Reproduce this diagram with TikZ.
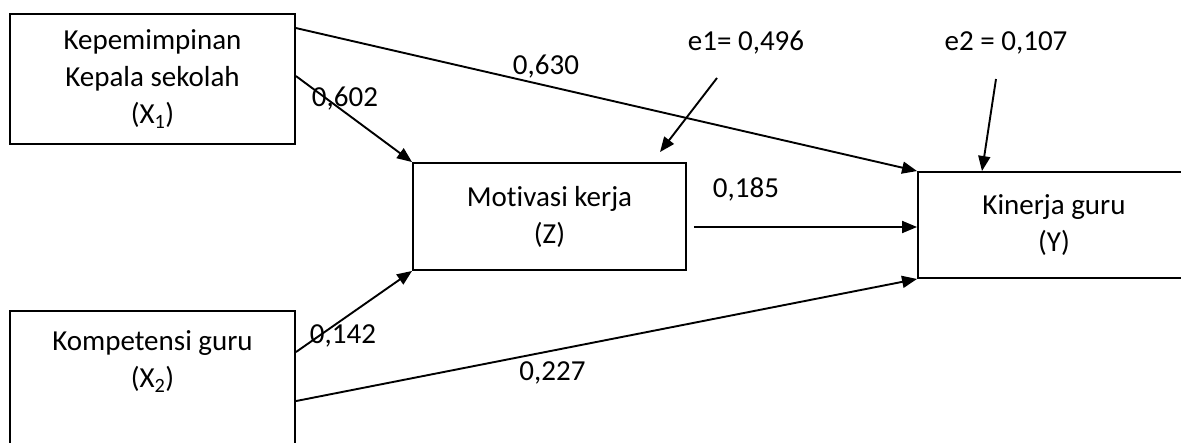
\documentclass[tikz,border=0pt]{standalone}
\usepackage{fontspec}
\setmainfont{Carlito}[Ligatures=NoCommon]
\usetikzlibrary{arrows.meta}
\begin{document}
\begin{tikzpicture}[x=1pt,y=-1pt,
  every node/.style={font=\fontsize{29}{37}\selectfont},
  varbox/.style={draw,line width=1.9pt,rectangle,align=center,inner sep=0pt},
  path/.style={line width=1.9pt,-{Triangle[length=15pt,width=12pt]}},
  coef/.style={inner sep=0pt}]
  \path[use as bounding box,clip] (0,0) rectangle (1181,442);

  % variables
  \node[varbox,minimum width=285pt,minimum height=130pt] (X1) at (152.5,79)
    {Kepemimpinan\\Kepala sekolah\\(X\textsubscript{1})};
  \node[varbox,minimum width=285pt,minimum height=149pt] (X2) at (152.5,385.5) {};
  \node[align=center,inner sep=0pt] (X2t) at (152.5,361.5)
    {Kompetensi guru\\(X\textsubscript{2})};
  \node[varbox,minimum width=273pt,minimum height=107pt] (Z) at (549.5,216.5)
    {Motivasi kerja\\(Z)};
  \node[varbox,minimum width=272pt,minimum height=106pt] (Y) at (1054,225)
    {Kinerja guru\\(Y)};

  % residual labels
  \node[coef] (e1) at (746,43) {e1= 0,496};
  \node[coef] (e2) at (1006,43) {e2 = 0,107};
  \coordinate (e1s) at (717,78);
  \coordinate (e2s) at (996,79);

  % path arrows
  \draw[path] ([yshift=-15pt]X1.north east) -- (Y.north west);
  \draw[path] ([yshift=-63pt]X1.north east) -- (Z.north west);
  \draw[path] ([yshift=-42pt]X2.north east) -- (Z.south west);
  \draw[path] ([yshift=-91pt]X2.north east) -- (Y.south west);
  \coordinate (zs) at ([xshift=7pt,yshift=-10.5pt]Z.east);
  \draw[path] (zs) -- (Y.west |- zs);
  \draw[path] (e1s) -- ([xshift=110.5pt,yshift=10pt]Z.north);
  \draw[path] (e2s) -- ([xshift=-72pt]Y.north);

  % path coefficients
  \node[coef] at (546,67) {0,630};
  \node[coef] at (345,99) {0,602};
  \node[coef] at (343,336) {0,142};
  \node[coef] at (552.5,373) {0,227};
  \node[coef] at (746,189) {0,185};
\end{tikzpicture}
\end{document}
